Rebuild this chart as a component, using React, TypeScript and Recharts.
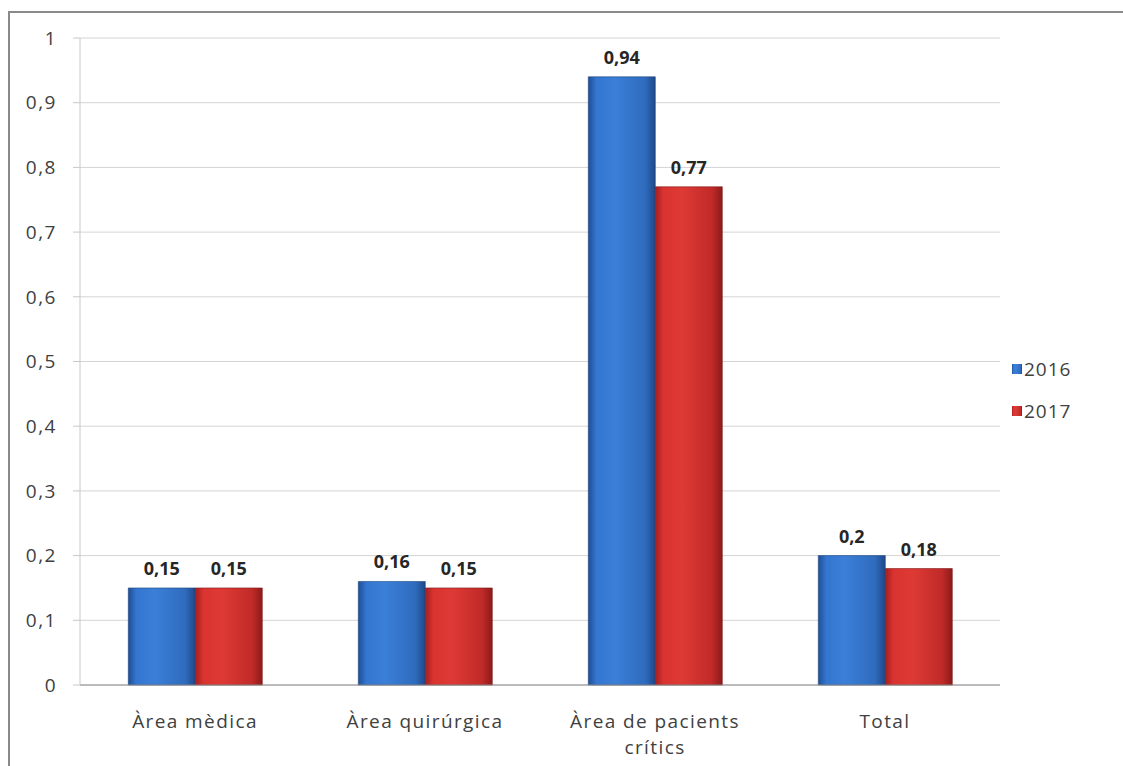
import React from "react";
import {
  BarChart,
  Bar,
  XAxis,
  YAxis,
  CartesianGrid,
  Legend,
  LabelList,
} from "recharts";

const CATEGORIES = [
  "Àrea mèdica",
  "Àrea quirúrgica",
  "Àrea de pacients\ncrítics",
  "Total",
];
const VALUES_2016 = [0.15, 0.16, 0.94, 0.2];
const VALUES_2017 = [0.15, 0.15, 0.77, 0.18];
const Y_TICKS = [0, 0.1, 0.2, 0.3, 0.4, 0.5, 0.6, 0.7, 0.8, 0.9, 1];

const FONT = "'Open Sans', Lato, sans-serif";
const TEXT = "#404040";

const data = CATEGORIES.map((name, i) => ({
  name,
  y2016: VALUES_2016[i],
  y2017: VALUES_2017[i],
}));

const fmt = (v: number) => String(v).replace(".", ",");

function CategoryTick({ x, y, payload }: any) {
  const lines = String(payload.value).split("\n");
  return (
    <text
      x={x}
      y={y + 35}
      textAnchor="middle"
      fill={TEXT}
      fontSize={19}
      letterSpacing={1.4}
      fontFamily={FONT}
    >
      {lines.map((line, i) => (
        <tspan key={i} x={x} dy={i === 0 ? 0 : 26}>
          {line}
        </tspan>
      ))}
    </text>
  );
}

function renderLegend() {
  const items = [
    { label: "2016", id: "gBlue" },
    { label: "2017", id: "gRed" },
  ];
  return (
    <div
      style={{ fontFamily: FONT, fontSize: 19, color: TEXT, letterSpacing: 1 }}
    >
      {items.map((it) => (
        <div
          key={it.label}
          style={{ display: "flex", alignItems: "center", height: 42 }}
        >
          <svg width={10} height={10} style={{ marginRight: 2 }}>
            <rect width={10} height={10} fill={`url(#${it.id})`} />
          </svg>
          {it.label}
        </div>
      ))}
    </div>
  );
}

export default function App() {
  return (
    <div
      style={{
        position: "absolute",
        left: 0,
        top: 0,
        width: 1123,
        height: 766,
        overflow: "hidden",
        background: "#fff",
      }}
    >
      <div
        style={{
          position: "absolute",
          left: 8,
          top: 11,
          width: 1200,
          height: 900,
          borderLeft: "2px solid #8a8a8a",
          borderTop: "2px solid #8a8a8a",
        }}
      />
      <div style={{ position: "absolute", left: 0, top: 0 }}>
        <BarChart
          width={1123}
          height={766}
          data={data}
          margin={{ top: 38, right: 13, left: 20, bottom: 21 }}
          barCategoryGap="21%"
          barGap={0}
        >
          <defs>
            <linearGradient id="gBlue" x1="0" y1="0" x2="1" y2="0">
              <stop offset="0%" stopColor="#1f4e93" />
              <stop offset="12%" stopColor="#3476d0" />
              <stop offset="40%" stopColor="#3a7fd8" />
              <stop offset="85%" stopColor="#2f6bbd" />
              <stop offset="100%" stopColor="#1d4888" />
            </linearGradient>
            <linearGradient id="gRed" x1="0" y1="0" x2="1" y2="0">
              <stop offset="0%" stopColor="#a21f1f" />
              <stop offset="12%" stopColor="#da3330" />
              <stop offset="40%" stopColor="#de3a35" />
              <stop offset="85%" stopColor="#c02a28" />
              <stop offset="100%" stopColor="#8c1a1a" />
            </linearGradient>
          </defs>
          <CartesianGrid vertical={false} stroke="#d4d4d4" />
          <XAxis
            dataKey="name"
            interval={0}
            height={60}
            tick={<CategoryTick />}
            tickLine={false}
            axisLine={{ stroke: "#8c8c8c" }}
          />
          <YAxis
            domain={[0, 1]}
            ticks={Y_TICKS}
            width={60}
            tickSize={7}
            tickFormatter={fmt}
            axisLine={{ stroke: "#c8c8c8" }}
            tickLine={{ stroke: "#c8c8c8" }}
            tick={{
              fill: TEXT,
              fontSize: 19,
              fontFamily: FONT,
              letterSpacing: 1.5,
              dx: -14,
            }}
          />
          <Legend
            layout="vertical"
            align="right"
            verticalAlign="top"
            content={renderLegend}
            wrapperStyle={{ left: 1012, top: 348, width: 110 }}
          />
          <Bar
            dataKey="y2016"
            name="2016"
            fill="url(#gBlue)"
            stroke="#1c4580"
            strokeWidth={0.6}
            isAnimationActive={false}
          >
            <LabelList
              dataKey="y2016"
              position="top"
              offset={13}
              formatter={fmt}
              fill="#262626"
              fontSize={18}
              fontWeight={700}
              fontFamily={FONT}
            />
          </Bar>
          <Bar
            dataKey="y2017"
            name="2017"
            fill="url(#gRed)"
            stroke="#7f1818"
            strokeWidth={0.6}
            isAnimationActive={false}
          >
            <LabelList
              dataKey="y2017"
              position="top"
              offset={13}
              formatter={fmt}
              fill="#262626"
              fontSize={18}
              fontWeight={700}
              fontFamily={FONT}
            />
          </Bar>
        </BarChart>
      </div>
    </div>
  );
}
